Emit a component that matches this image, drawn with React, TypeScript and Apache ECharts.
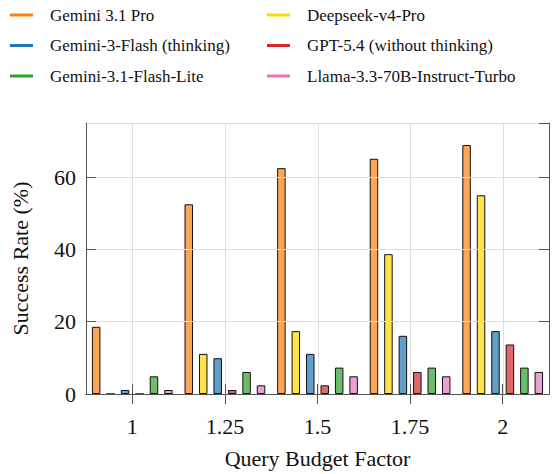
import React, { useEffect, useRef } from "react";
import * as echarts from "echarts";

const categories = ["1", "1.25", "1.5", "1.75", "2"];
const gemini31Pro = [18.6, 52.5, 62.5, 65.1, 68.9];
const deepseekV4Pro = [0, 11.1, 17.4, 38.7, 55.0];
const gemini3Flash = [1.1, 9.9, 11.1, 16.1, 17.4];
const gpt54 = [0, 1.1, 2.4, 6.1, 13.7];
const gemini31FlashLite = [4.9, 6.1, 7.3, 7.3, 7.3];
const llama33 = [1.1, 2.4, 4.9, 4.9, 6.1];

const seriesDefs = [
  { name: "Gemini 3.1 Pro", data: gemini31Pro, fill: "#FFA556", solid: "#ff7f0e" },
  { name: "Deepseek-v4-Pro", data: deepseekV4Pro, fill: "#FFE34D", solid: "#ffd700" },
  { name: "Gemini-3-Flash (thinking)", data: gemini3Flash, fill: "#62A0CB", solid: "#1f77b4" },
  { name: "GPT-5.4 (without thinking)", data: gpt54, fill: "#E26869", solid: "#d62728" },
  { name: "Gemini-3.1-Flash-Lite", data: gemini31FlashLite, fill: "#6BBD6B", solid: "#2ca02c" },
  { name: "Llama-3.3-70B-Instruct-Turbo", data: llama33, fill: "#EBA0D4", solid: "#e377c2" },
];

const leftLegend = ["Gemini 3.1 Pro", "Gemini-3-Flash (thinking)", "Gemini-3.1-Flash-Lite"];
const rightLegend = ["Deepseek-v4-Pro", "GPT-5.4 (without thinking)", "Llama-3.3-70B-Instruct-Turbo"];

const FONT = "Liberation Serif";
const AXIS_COLOR = "#555555";
const GRID_COLOR = "#dedede";
const TEXT_COLOR = "#111111";

export default function App() {
  const ref = useRef<HTMLDivElement>(null);
  useEffect(() => {
    if (!ref.current) return;
    const chart = echarts.init(ref.current, null, { renderer: "svg" });
    const solidOf = (n: string) => seriesDefs.find((s) => s.name === n)!.solid;
    const legendText = {
      fontFamily: FONT,
      fontSize: 17,
      color: TEXT_COLOR,
      lineHeight: 18,
      padding: [12, 0, 0, 12],
    };
    const legendBase = {
      orient: "vertical" as const,
      top: 0,
      padding: 0,
      itemWidth: 23,
      itemHeight: 3,
      itemGap: 0.5,
      icon: "rect",
      selectedMode: false,
      textStyle: legendText,
    };
    const legendItem = (n: string) => ({
      name: n,
      itemStyle: { color: solidOf(n), borderWidth: 0 },
      textStyle: { ...legendText },
    });
    const barSeries = seriesDefs.map((s) => ({
      type: "bar",
      name: s.name,
      data: s.data,
      xAxisIndex: 0,
      yAxisIndex: 0,
      barWidth: 8.5,
      barGap: "70%",
      z: 2,
      itemStyle: { color: s.fill, borderColor: "#111", borderWidth: 1 },
    }));
    // vertical grid lines at the category centres
    const gridLineSeries = {
      type: "custom",
      name: "vgrid",
      xAxisIndex: 0,
      yAxisIndex: 0,
      silent: true,
      z: 1,
      clip: false,
      data: categories.map((_c, i) => [i, 0]),
      encode: { x: 0, y: 1 },
      renderItem: (params: any, api: any) => {
        const x = api.coord([api.value(0), 0])[0];
        const cs = params.coordSys;
        const xr = Math.round(x) + 0.5;
        return {
          type: "line",
          shape: { x1: xr, y1: cs.y, x2: xr, y2: cs.y + cs.height },
          style: { stroke: GRID_COLOR, lineWidth: 1, fill: null },
          silent: true,
        };
      },
    };
    chart.setOption({
      animation: false,
      textStyle: { fontFamily: FONT },
      legend: [
        { ...legendBase, left: 10, data: leftLegend.map(legendItem) },
        { ...legendBase, left: 267, data: rightLegend.map(legendItem) },
      ],
      grid: { left: 86, top: 123, right: 4, bottom: 78, containLabel: false },
      xAxis: [
        {
          type: "category",
          data: categories,
          position: "bottom",
          boundaryGap: true,
          axisLine: { show: true, lineStyle: { color: AXIS_COLOR, width: 1 } },
          axisTick: { show: true, alignWithLabel: true, inside: false, length: 10, lineStyle: { color: AXIS_COLOR } },
          axisLabel: { fontFamily: FONT, fontSize: 22, color: TEXT_COLOR, margin: 21 },
          splitLine: { show: false },
          name: "Query Budget Factor",
          nameLocation: "middle",
          nameGap: 53,
          nameTextStyle: { fontFamily: FONT, fontSize: 22, color: TEXT_COLOR },
          z: 3,
        },
        {
          type: "category",
          data: categories,
          position: "top",
          boundaryGap: true,
          axisLine: { show: true, lineStyle: { color: AXIS_COLOR, width: 1 } },
          axisTick: { show: true, alignWithLabel: true, inside: false, length: 10, lineStyle: { color: AXIS_COLOR } },
          axisLabel: { show: false },
          splitLine: { show: false },
          z: 3,
        },
      ],
      yAxis: [
        {
          type: "value",
          min: 0,
          max: 75,
          interval: 20,
          position: "left",
          axisLine: { show: true, lineStyle: { color: AXIS_COLOR, width: 1 } },
          axisTick: { show: true, inside: true, length: 10, lineStyle: { color: AXIS_COLOR } },
          axisLabel: { fontFamily: FONT, fontSize: 22, color: TEXT_COLOR, margin: 10, showMaxLabel: false },
          splitLine: { show: true, lineStyle: { color: GRID_COLOR, width: 1 } },
          name: "Success Rate (%)",
          nameLocation: "middle",
          nameGap: 55,
          nameTextStyle: { fontFamily: FONT, fontSize: 22, color: TEXT_COLOR },
          z: 3,
        },
        {
          type: "value",
          min: 0,
          max: 75,
          interval: 20,
          position: "right",
          axisLine: { show: true, lineStyle: { color: AXIS_COLOR, width: 1 } },
          axisTick: { show: true, inside: true, length: 10, lineStyle: { color: AXIS_COLOR } },
          axisLabel: { show: false },
          splitLine: { show: false },
          z: 3,
        },
      ],
      series: [gridLineSeries, ...barSeries],
    });
    return () => chart.dispose();
  }, []);
  return (
    <div
      ref={ref}
      style={{ position: "fixed", left: 0, top: 0, width: 553, height: 474, background: "#fff" }}
    />
  );
}
